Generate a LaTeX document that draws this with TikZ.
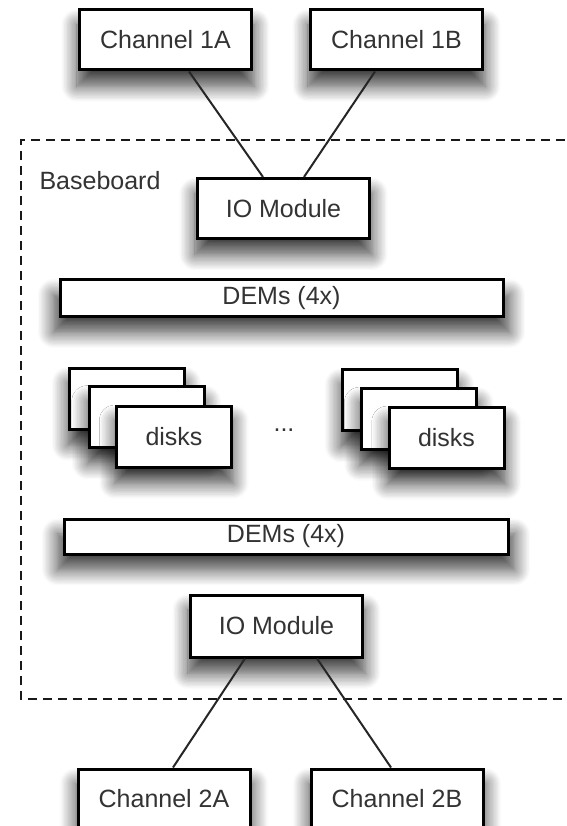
\documentclass[tikz,border=0pt]{standalone}
\usepackage{fontspec}
\setmainfont{Liberation Sans}
\usetikzlibrary{shadows.blur}
\tikzset{
  box/.style={draw=black,line width=3pt,fill=white,inner sep=0pt,text=black!80,
    blur shadow={shadow xshift=0pt,shadow yshift=-15pt,shadow blur radius=15pt,shadow blur steps=12,shadow opacity=75,shadow scale=1.03}},
  chanbox/.style={box,minimum width=172pt,minimum height=60pt},
  iobox/.style={box,minimum width=172pt,minimum height=60pt},
  dembox/.style={box,minimum width=443pt,minimum height=37pt},
  diskbox/.style={box,minimum width=115pt,minimum height=61pt},
  link/.style={black!85,line width=2pt}
}
\begin{document}
\begin{tikzpicture}[x=1pt,y=1pt]\fontsize{25}{30}\selectfont
\useasboundingbox (0,0) rectangle (566,-826);
\draw[black!90,line width=2.5pt,dash pattern=on 9pt off 6pt] (580,-140) -- (21,-140) -- (21,-699) -- (580,-699);
\node[anchor=west,text=black!80] (base) at (31,-181) {Baseboard};
\node[chanbox] (ch1a) at (165.5,-40) {Channel 1A};
\node[chanbox] (ch1b) at (396.5,-40) {Channel 1B};
\node[iobox] (io1) at (283.5,-208.5) {IO Module};
\node[dembox] (dem1) at (281.5,-298) {DEMs (4x)};
\node[diskbox] (dl1) at (126.5,-398.5) {};
\node[diskbox] (dl2) at (146.5,-417) {};
\node[diskbox] (dl3) at (174,-436.5) {disks};
\node[text=black!80] (dots) at (284,-430) {...};
\node[diskbox] (dr1) at (399.5,-400) {};
\node[diskbox] (dr2) at (419,-418.5) {};
\node[diskbox] (dr3) at (446.5,-437.5) {disks};
\node[dembox,minimum width=444pt,minimum height=35pt] (dem2) at (286,-536.5) {DEMs (4x)};
\node[iobox,minimum height=62pt] (io2) at (276.5,-626) {IO Module};
\node[chanbox] (ch2a) at (164,-799) {Channel 2A};
\node[chanbox] (ch2b) at (397,-799) {Channel 2B};
\draw[link] ([xshift=23.5pt]ch1a.south) -- ([xshift=-20.5pt]io1.north);
\draw[link] ([xshift=-21.5pt]ch1b.south) -- ([xshift=20.5pt]io1.north);
\draw[link] ([xshift=-31.5pt]io2.south) -- ([xshift=9pt]ch2a.north);
\draw[link] ([xshift=40.5pt]io2.south) -- ([xshift=-6pt]ch2b.north);
\end{tikzpicture}
\end{document}
